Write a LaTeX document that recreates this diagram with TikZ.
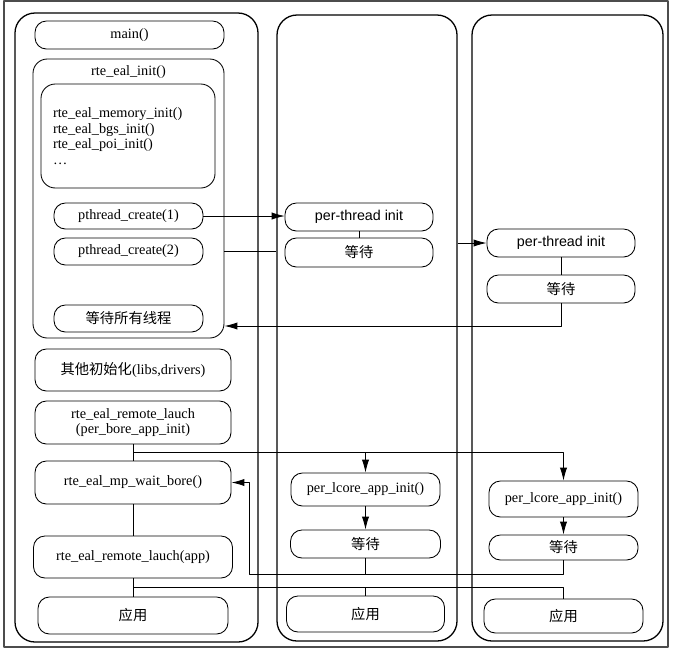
\documentclass[tikz,border=0pt]{standalone}
\usepackage{fontspec}
\setmainfont{Liberation Serif}
\newfontfamily\cjk{Noto Sans CJK SC}
\newfontfamily\sansf{Liberation Sans}
\usetikzlibrary{arrows.meta}
\begin{document}
\begin{tikzpicture}[x=0.7pt,y=-0.7pt,>={Latex[length=9pt,width=5pt]},line join=round,
	font=\fontsize{10}{11}\selectfont,
	lane/.style 2 args={draw,line width=0.9pt,rounded corners=14pt,inner sep=0pt,minimum width=#1*0.7pt,minimum height=#2*0.7pt},
	blk/.style 2 args={draw,line width=0.6pt,rounded corners=8pt,inner sep=0pt,align=center,minimum width=#1*0.7pt,minimum height=#2*0.7pt}]
				\useasboundingbox (0,0) rectangle (678,651);
				\draw[gray!60!black,line width=0.8pt] (4,1) rectangle (668,647);
				% the three threads
				\node[lane={243}{629}] (lane1) at (136.5,327.5) {};
				\node[lane={180}{626}] (lane2) at (367,328) {};
				\node[lane={191}{626}] (lane3) at (567.5,328) {};
				% main thread
				\node[blk={189}{28}] (main) at (129.5,35) {main()};
				\node[blk={191}{279},rounded corners=10pt] (init) at (128.5,198.5) {};
				\node (inittitle) at (128.5,72) {rte\_eal\_init()};
				\node[blk={174}{104},rounded corners=10pt,align=left,text width=150*0.7pt] (sub) at (128,136) {rte\_eal\_memory\_init()\\rte\_eal\_bgs\_init()\\rte\_eal\_poi\_init()\\\ldots};
				\node[blk={149}{26}] (p1) at (128.5,216) {pthread\_create(1)};
				\node[blk={149}{27}] (p2) at (128.5,251.5) {pthread\_create(2)};
				\node[blk={149}{27}] (waitall) at (128.5,318.5) {\cjk 等待所有线程};
				\node[blk={196}{42}] (other) at (133,370) {{\cjk 其他初始化}(libs,drivers)};
				\node[blk={196}{43}] (launch1) at (133,422.5) {rte\_eal\_remote\_lauch\\(per\_bore\_app\_init)};
				\node[blk={196}{43}] (mpwait) at (133,482.5) {rte\_eal\_mp\_wait\_bore()};
				\node[blk={199}{42}] (launch2) at (133,557) {rte\_eal\_remote\_lauch(app)};
				\node[blk={190}{37}] (app1) at (133,615.5) {\cjk 应用};
				% thread 1
				\node[blk={148}{28}] (pt2) at (359,217) {\sansf per-thread init};
				\node[blk={148}{29}] (wt2) at (359,252.5) {\cjk 等待};
				\node[blk={149}{33}] (lc2) at (365.5,489.5) {per\_lcore\_app\_init()};
				\node[blk={150}{28}] (lw2) at (365.5,544) {\cjk 等待};
				\node[blk={158}{36}] (app2) at (365.5,614) {\cjk 应用};
				% thread 2
				\node[blk={148}{28}] (pt3) at (561,243) {\sansf per-thread init};
				\node[blk={148}{28}] (wt3) at (561,289) {\cjk 等待};
				\node[blk={149}{36}] (lc3) at (563.5,499) {per\_lcore\_app\_init()};
				\node[blk={149}{25}] (lw3) at (563.5,547.5) {\cjk 等待};
				\node[blk={159}{34}] (app3) at (563.5,616) {\cjk 应用};
				% connectors
				\coordinate (ret) at (561,326);
				\coordinate (fork1) at (133,452.5);
				\coordinate (join) at (249,574.5);
				\coordinate (fork2) at (133,587);
				\draw[->,line width=0.4pt] (p1.east) -- (p1.east -| pt2.west);
				\draw[line width=0.6pt] (init.east |- p2) -- (lane2.west |- p2);
				\draw[->,line width=0.6pt] (lane2.east |- pt3) -- (pt3.west);
				\draw[line width=0.6pt] (pt2) -- (wt2);
				\draw[line width=0.6pt] (pt3) -- (wt3);
				\draw[->,line width=0.6pt] (wt3.south) |- (init.east |- ret);
				\draw[line width=0.6pt] (launch1) -- (mpwait);
				\draw[->,line width=0.6pt] (fork1) -| (lc2.north);
				\draw[->,line width=0.6pt] (fork1) -| (lc3.north);
				\draw[->,line width=0.6pt] (lc2) -- (lw2);
				\draw[->,line width=0.6pt] (lc3) -- (lw3);
				\draw[line width=0.6pt] (lw2.south) -- (lw2.south |- join);
				\draw[->,line width=0.6pt] (lw3.south) |- (join) |- (mpwait.east);
				\draw[line width=0.6pt] (mpwait) -- (launch2);
				\draw[line width=0.6pt] (launch2) -- (app1);
				\draw[line width=0.6pt] (fork2) -| (app2.north);
				\draw[line width=0.6pt] (fork2) -| (app3.north);
\end{tikzpicture}
\end{document}
